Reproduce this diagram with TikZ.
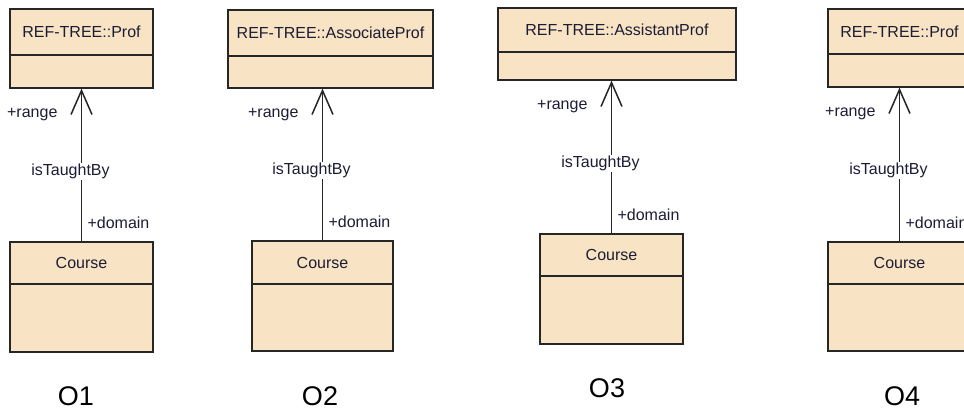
\documentclass[tikz,border=0pt]{standalone}
\usepackage{fontspec}
\setmainfont{Liberation Sans}
\usetikzlibrary{arrows.meta}
\definecolor{umlfill}{RGB}{248,228,196}
\definecolor{umltext}{RGB}{28,28,52}
\begin{document}
\begin{tikzpicture}[x=1pt, y=-1pt,
	every node/.style={text=umltext, font=\fontsize{16}{18}\selectfont},
	box/.style={draw=black!85, fill=umlfill, line width=1.3pt, inner sep=0pt},
	assoc/.style={draw=black!85, line width=1.5pt, -{Straight Barb[length=24pt, width=21pt, line width=1.5pt]}},
	rng/.style={pos=0.83, anchor=east, xshift=-20pt},
	assoclbl/.style={pos=0.46, fill=white, inner sep=1pt, xshift=-11pt},
	dom/.style={pos=0.12, anchor=west, xshift=2pt},
	onto/.style={font=\fontsize{27}{30}\selectfont, text=black}]
		\clip (0,0) rectangle (964,412);
		% O1
		\node[box, minimum width=143pt, minimum height=46pt] (prof1) at (81.5,32) {REF-TREE::Prof};
		\node[box, minimum width=143pt, minimum height=33pt] (prof1b) at (81.5,71.5) {};
		\node[box, minimum width=143pt, minimum height=42pt] (course1) at (81.5,263) {Course};
		\node[box, minimum width=143pt, minimum height=68pt] (course1b) at (81.5,318) {};
		\draw[assoc] (course1.north) -- node[rng] {+range} node[assoclbl] {isTaughtBy} node[dom] {+domain} (prof1b.south);
		\node[onto] (o1) at (76,396) {O1};
		% O2
		\node[box, minimum width=205pt, minimum height=46pt] (prof2) at (330.5,33) {REF-TREE::AssociateProf};
		\node[box, minimum width=205pt, minimum height=32pt] (prof2b) at (330.5,72) {};
		\node[box, minimum width=141pt, minimum height=43pt] (course2) at (322.5,262.5) {Course};
		\node[box, minimum width=141pt, minimum height=67pt] (course2b) at (322.5,317.5) {};
		\draw[assoc] (course2.north) -- node[rng] {+range} node[assoclbl] {isTaughtBy} node[dom] {+domain} (course2.north |- prof2b.south);
		\node[onto] (o2) at (320,396) {O2};
		% O3
		\node[box, minimum width=238pt, minimum height=44pt] (prof3) at (617,30) {REF-TREE::AssistantProf};
		\node[box, minimum width=238pt, minimum height=28pt] (prof3b) at (617,66) {};
		\node[box, minimum width=143pt, minimum height=42pt] (course3) at (611.5,255) {Course};
		\node[box, minimum width=143pt, minimum height=68pt] (course3b) at (611.5,310) {};
		\draw[assoc] (course3.north) -- node[rng] {+range} node[assoclbl] {isTaughtBy} node[dom] {+domain} (course3.north |- prof3b.south);
		\node[onto] (o3) at (607,388) {O3};
		% O4
		\node[box, minimum width=143pt, minimum height=45pt] (prof4) at (899.5,31.5) {REF-TREE::Prof};
		\node[box, minimum width=143pt, minimum height=33pt] (prof4b) at (899.5,70.5) {};
		\node[box, minimum width=143pt, minimum height=42pt] (course4) at (899.5,263) {Course};
		\node[box, minimum width=143pt, minimum height=67pt] (course4b) at (899.5,317.5) {};
		\draw[assoc] (course4.north) -- node[rng] {+range} node[assoclbl] {isTaughtBy} node[dom] {+domain} (prof4b.south);
		\node[onto] (o4) at (902,396) {O4};
	\end{tikzpicture}
\end{document}
